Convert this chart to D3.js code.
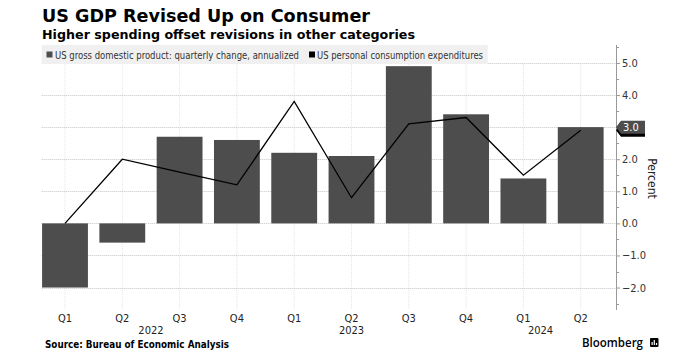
<!DOCTYPE html>
<html>
<head>
<meta charset="utf-8">
<script src="https://cdn.jsdelivr.net/npm/d3@7"></script>
<style>
  html, body { margin: 0; padding: 0; background: #fff; }
  svg { display: block; }
  .cond { font-family: "DejaVu Sans Condensed", "Liberation Sans Narrow", "Roboto", "DejaVu Sans", sans-serif; }
  .bold { font-family: "DejaVu Sans", "Verdana", sans-serif; font-weight: bold; }
</style>
</head>
<body>
<svg id="chart" width="688" height="360"></svg>
<script>
// ---------- data ----------
const quarters = ["Q1 2022", "Q2 2022", "Q3 2022", "Q4 2022", "Q1 2023", "Q2 2023", "Q3 2023", "Q4 2023", "Q1 2024", "Q2 2024"];
const quarterLabels = ["Q1", "Q2", "Q3", "Q4", "Q1", "Q2", "Q3", "Q4", "Q1", "Q2"];
const gdpValues = [-2.0, -0.6, 2.7, 2.6, 2.2, 2.1, 4.9, 3.4, 1.4, 3.0];
const pceValues = [0.0, 2.0, 1.6, 1.2, 3.8, 0.8, 3.1, 3.3, 1.5, 2.9];
const yearLabels = ["2022", "2023", "2024"];
const yearPositions = [1.5, 5, 8.3]; // position in quarter index units
const yTicks = [-2, -1, 0, 1, 2, 3, 4, 5];
const yMinorTicks = [-2.5, -1.5, -0.5, 0.5, 1.5, 2.5, 3.5, 4.5, 5.5];
const seriesNames = ["US gross domestic product: quarterly change, annualized", "US personal consumption expenditures"];

// ---------- layout ----------
const svg = d3.select("#chart");
const axisX = 616, plotLeft = 41.7, plotTop = 45, plotBottom = 310;
const barColor = "#4d4d4d", lineColor = "#000";

const x = d3.scaleBand().domain(quarters).range([36.35, 609.35]).paddingInner(0.2).paddingOuter(0.1);
const y = d3.scaleLinear().domain([-2.7, 5.56]).range([plotBottom, plotTop]);
const xc = d => x(d) + x.bandwidth() / 2;
const xIdx = i => xc(quarters[0]) + i * x.step();

// title
svg.append("text").attr("class", "bold").attr("x", 42).attr("y", 22)
  .attr("font-size", 18).attr("fill", "#000")
  .attr("textLength", 328).attr("lengthAdjust", "spacingAndGlyphs")
  .text("US GDP Revised Up on Consumer");
svg.append("text").attr("class", "bold").attr("x", 42).attr("y", 38.5)
  .attr("font-size", 13).attr("fill", "#000")
  .attr("textLength", 373).attr("lengthAdjust", "spacingAndGlyphs")
  .text("Higher spending offset revisions in other categories");

// vertical gridlines
svg.append("g").selectAll("line").data(quarters).join("line")
  .attr("x1", d => xc(d)).attr("x2", d => xc(d))
  .attr("y1", plotTop + 19).attr("y2", plotBottom)
  .attr("stroke", "#e4e4e4").attr("stroke-width", 1).attr("stroke-dasharray", "1,1");

// horizontal gridlines
svg.append("g").selectAll("line").data(yTicks).join("line")
  .attr("x1", plotLeft).attr("x2", axisX)
  .attr("y1", d => Math.round(y(d)) + 0.5).attr("y2", d => Math.round(y(d)) + 0.5)
  .attr("stroke", "#c4c4c4").attr("stroke-width", 1).attr("stroke-dasharray", "1,1");

// legend background
svg.append("rect").attr("x", plotLeft).attr("y", 45).attr("width", 446).attr("height", 19).attr("fill", "#f0f0f0");
svg.append("rect").attr("x", 46.5).attr("y", 51.5).attr("width", 6).attr("height", 6).attr("fill", barColor);
svg.append("text").attr("class", "cond").attr("x", 55).attr("y", 58.5).attr("font-size", 10.5).attr("fill", "#333")
  .attr("textLength", 244).attr("lengthAdjust", "spacingAndGlyphs").text(seriesNames[0]);
svg.append("rect").attr("x", 309).attr("y", 51.5).attr("width", 6).attr("height", 6).attr("fill", lineColor);
svg.append("text").attr("class", "cond").attr("x", 317).attr("y", 58.5).attr("font-size", 10.5).attr("fill", "#333")
  .attr("textLength", 166).attr("lengthAdjust", "spacingAndGlyphs").text(seriesNames[1]);

// bars
svg.append("g").selectAll("rect").data(quarters).join("rect")
  .attr("x", d => x(d)).attr("width", x.bandwidth())
  .attr("y", (d, i) => y(Math.max(0, gdpValues[i])))
  .attr("height", (d, i) => Math.abs(y(gdpValues[i]) - y(0)))
  .attr("fill", barColor);

// line
const line = d3.line().x((d, i) => xc(quarters[i])).y(d => y(d));
svg.append("path").datum(pceValues).attr("d", line)
  .attr("fill", "none").attr("stroke", lineColor).attr("stroke-width", 1.3);

// right axis
const axis = d3.axisRight(y).tickValues(yTicks).tickFormat(d3.format(".1f")).tickSize(4).tickPadding(2);
const ag = svg.append("g").attr("transform", `translate(${axisX},0)`).call(axis);
ag.select(".domain").remove();
ag.selectAll(".tick line").attr("stroke", "#999");
ag.selectAll(".tick text").attr("class", "cond").attr("font-size", 11).attr("fill", "#333");
svg.append("line").attr("x1", axisX + 0.5).attr("x2", axisX + 0.5).attr("y1", plotTop).attr("y2", plotBottom).attr("stroke", "#999");
svg.append("g").selectAll("line").data(yMinorTicks).join("line")
  .attr("x1", axisX).attr("x2", axisX + 3)
  .attr("y1", d => Math.round(y(d)) + 0.5).attr("y2", d => Math.round(y(d)) + 0.5)
  .attr("stroke", "#999");

svg.append("text").attr("class", "cond").attr("font-size", 12).attr("fill", "#222")
  .attr("transform", `translate(648,${y(1.4)}) rotate(90)`).attr("text-anchor", "middle")
  .text("Percent");

// last value labels (PCE tag sits hidden behind the GDP tag, as in the reference)
function valueTag(v, fill, withText) {
  const cy = y(v);
  const g = svg.append("g");
  g.append("path").attr("d", `M${axisX},${cy} L${axisX + 5},${cy - 6.5} L${axisX + 29},${cy - 6.5} L${axisX + 29},${cy + 6.5} L${axisX + 5},${cy + 6.5} Z`)
    .attr("fill", fill);
  if (withText) {
    g.append("text").attr("class", "cond").attr("x", axisX + 7).attr("y", cy + 4).attr("font-size", 11)
      .attr("fill", "#fff").text(d3.format(".1f")(v));
  }
}
valueTag(pceValues[pceValues.length - 1], "#000", false);
valueTag(gdpValues[gdpValues.length - 1], barColor, true);

// x labels
svg.append("g").selectAll("text").data(quarters).join("text")
  .attr("class", "cond").attr("x", d => xc(d)).attr("y", 322).attr("text-anchor", "middle")
  .attr("font-size", 11).attr("fill", "#222").text((d, i) => quarterLabels[i]);
svg.append("g").selectAll("text").data(yearLabels).join("text")
  .attr("class", "cond").attr("x", (d, i) => xIdx(yearPositions[i])).attr("y", 334).attr("text-anchor", "middle")
  .attr("font-size", 11).attr("fill", "#222").text(d => d);

// source
svg.append("text").attr("class", "bold").attr("x", 45).attr("y", 348).attr("font-size", 10).attr("fill", "#000")
  .attr("textLength", 184).attr("lengthAdjust", "spacingAndGlyphs").text("Source: Bureau of Economic Analysis");

// Bloomberg
svg.append("text").attr("x", 582).attr("y", 347).attr("font-size", 12.5).attr("font-weight", 600)
  .attr("font-family", "'Open Sans', 'DejaVu Sans', sans-serif").attr("fill", "#000")
  .attr("textLength", 61).attr("lengthAdjust", "spacingAndGlyphs").text("Bloomberg");
svg.append("rect").attr("x", 650).attr("y", 338).attr("width", 8.5).attr("height", 9).attr("rx", 1).attr("fill", "#000");
svg.append("g").selectAll("rect").data([3, 5, 2]).join("rect")
  .attr("x", (d, i) => 651.5 + i * 2.2).attr("y", d => 345 - d).attr("width", 1.2).attr("height", d => d).attr("fill", "#fff");
</script>
</body>
</html>
